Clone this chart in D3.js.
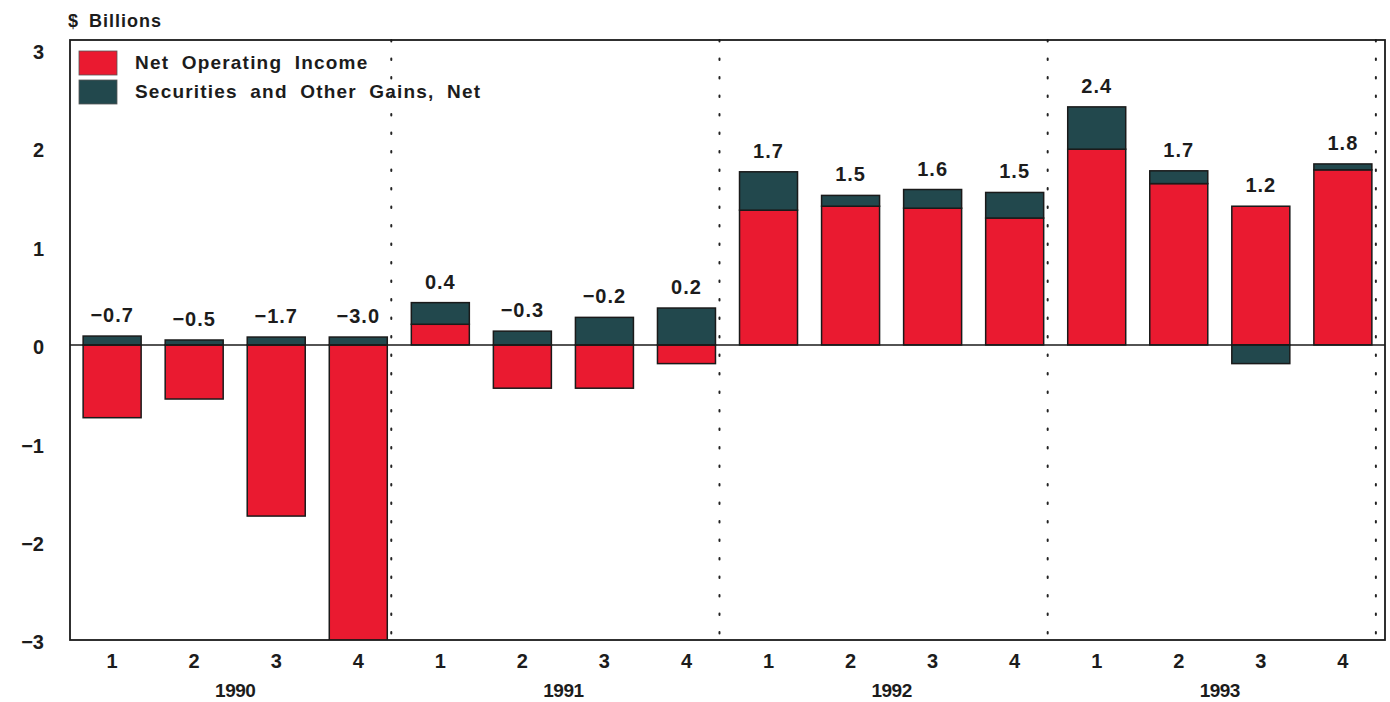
<!DOCTYPE html>
<html>
<head>
<meta charset="utf-8">
<script src="https://cdn.jsdelivr.net/npm/d3@7"></script>
<style>
  body { margin: 0; background: #fff; }
  svg { font-family: "Liberation Sans", Arial, sans-serif; font-weight: bold; }
  text { fill: #1c1c1c; }
</style>
</head>
<body>
<svg id="chart" width="1390" height="702"></svg>
<script>
// quarters, 1990 Q1 .. 1993 Q4
const years = ["1990", "1991", "1992", "1993"];
const quarterLabels = ["1", "2", "3", "4"];
const netOperatingIncome = [-0.74, -0.55, -1.74, -3.1, 0.21, -0.44, -0.44, -0.19, 1.37, 1.41, 1.39, 1.29, 1.99, 1.64, 1.41, 1.78];
const securitiesGains = [0.09, 0.05, 0.08, 0.08, 0.22, 0.14, 0.28, 0.375, 0.39, 0.11, 0.19, 0.26, 0.43, 0.13, -0.19, 0.06];
const totalLabels = [-0.7, -0.5, -1.7, -3.0, 0.4, -0.3, -0.2, 0.2, 1.7, 1.5, 1.6, 1.5, 2.4, 1.7, 1.2, 1.8];
const yTicks = [-3, -2, -1, 0, 1, 2, 3];
const seriesNames = ["Net Operating Income", "Securities and Other Gains, Net"];
const colors = ["#ea1a30", "#22484d"];

const margin = { top: 40, right: 5, bottom: 62, left: 70 };
const width = 1390, height = 702;

const svg = d3.select("#chart");

// build rows for the stack
const rows = [];
years.forEach((yr, yi) => {
    quarterLabels.forEach((q, qi) => {
        const i = yi * 4 + qi;
        rows.push({
            key: yr + "-" + q, year: yr, quarter: q,
            net: netOperatingIncome[i], sec: securitiesGains[i], total: totalLabels[i]
        });
    });
});

const x = d3.scaleBand()
    .domain(rows.map(d => d.key))
    .range([margin.left, width - margin.right])
    .paddingInner(0.293)
    .paddingOuter(0.16);

const y = d3.scaleLinear()
    .domain([-3, 3.1])
    .range([height - margin.bottom, margin.top]);

const stack = d3.stack()
    .keys(["net", "sec"])
    .offset(d3.stackOffsetDiverging);
const stacked = stack(rows);

svg.append("clipPath").attr("id", "plot-clip")
    .append("rect")
    .attr("x", margin.left).attr("y", margin.top)
    .attr("width", width - margin.left - margin.right)
    .attr("height", height - margin.top - margin.bottom);

// year separators (dotted)
const sepX = years.map(yr => x(yr + "-4") + x.bandwidth() + 4);
svg.append("g")
    .selectAll("line")
    .data(sepX)
    .join("line")
    .attr("x1", d => d).attr("x2", d => d)
    .attr("y1", margin.top).attr("y2", height - margin.bottom)
    .attr("stroke", "#222")
    .attr("stroke-width", 2)
    .attr("stroke-dasharray", "1.5 17")
    .attr("stroke-linecap", "round");

// bars
svg.append("g")
    .attr("clip-path", "url(#plot-clip)")
    .selectAll("g")
    .data(stacked)
    .join("g")
    .attr("fill", (d, i) => colors[i])
    .selectAll("rect")
    .data(d => d)
    .join("rect")
    .attr("x", d => x(d.data.key))
    .attr("width", x.bandwidth())
    .attr("y", d => y(d[1]))
    .attr("height", d => Math.abs(y(d[0]) - y(d[1])))
    .attr("stroke", "#1a1a1a")
    .attr("stroke-width", 1.5);

// zero line
svg.append("line")
    .attr("x1", margin.left).attr("x2", width - margin.right)
    .attr("y1", y(0)).attr("y2", y(0))
    .attr("stroke", "#1a1a1a").attr("stroke-width", 1.5);

// frame
svg.append("rect")
    .attr("x", margin.left).attr("y", margin.top)
    .attr("width", width - margin.left - margin.right)
    .attr("height", height - margin.top - margin.bottom)
    .attr("fill", "none")
    .attr("stroke", "#1a1a1a")
    .attr("stroke-width", 1.8);

// total labels above bars
const fmt = v => (v < 0 ? "\u2212" : "") + Math.abs(v).toFixed(1);
svg.append("g")
    .selectAll("text")
    .data(rows)
    .join("text")
    .attr("x", d => x(d.key) + x.bandwidth() / 2)
    .attr("y", d => y(Math.max(0, d.net) + Math.max(0, d.sec)) - 14)
    .attr("text-anchor", "middle")
    .attr("font-size", 20)
    .attr("letter-spacing", 1)
    .text(d => fmt(d.total));

// y axis labels
svg.append("g")
    .selectAll("text")
    .data(yTicks)
    .join("text")
    .attr("x", 44)
    .attr("y", d => y(d) + 4)
    .attr("dominant-baseline", "middle")
    .attr("text-anchor", "end")
    .attr("font-size", 20)
    .text(d => (d < 0 ? "\u2212" : "") + Math.abs(d));

// x axis: quarters and years
svg.append("g")
    .selectAll("text")
    .data(rows)
    .join("text")
    .attr("x", d => x(d.key) + x.bandwidth() / 2)
    .attr("y", height - margin.bottom + 28)
    .attr("text-anchor", "middle")
    .attr("font-size", 20)
    .text(d => d.quarter);

svg.append("g")
    .selectAll("text")
    .data(years)
    .join("text")
    .attr("x", yr => (x(yr + "-1") + x(yr + "-4") + x.bandwidth()) / 2)
    .attr("y", height - margin.bottom + 57)
    .attr("text-anchor", "middle")
    .attr("font-size", 19)
    .attr("letter-spacing", -0.5)
    .text(yr => yr);

// unit label
svg.append("text")
    .attr("x", margin.left - 2)
    .attr("y", 27)
    .attr("font-size", 18)
    .attr("letter-spacing", 1)
    .attr("word-spacing", 4)
    .text("$ Billions");

// legend
const legend = svg.append("g")
    .selectAll("g")
    .data(seriesNames)
    .join("g")
    .attr("transform", (d, i) => `translate(79, ${51 + i * 29})`);
legend.append("rect")
    .attr("width", 38).attr("height", 24)
    .attr("fill", (d, i) => colors[i])
    .attr("stroke", "#555").attr("stroke-width", 0.8);
legend.append("text")
    .attr("x", 56).attr("y", 18)
    .attr("font-size", 19)
    .attr("letter-spacing", 1.2)
    .attr("word-spacing", 6)
    .text(d => d);
</script>
</body>
</html>
